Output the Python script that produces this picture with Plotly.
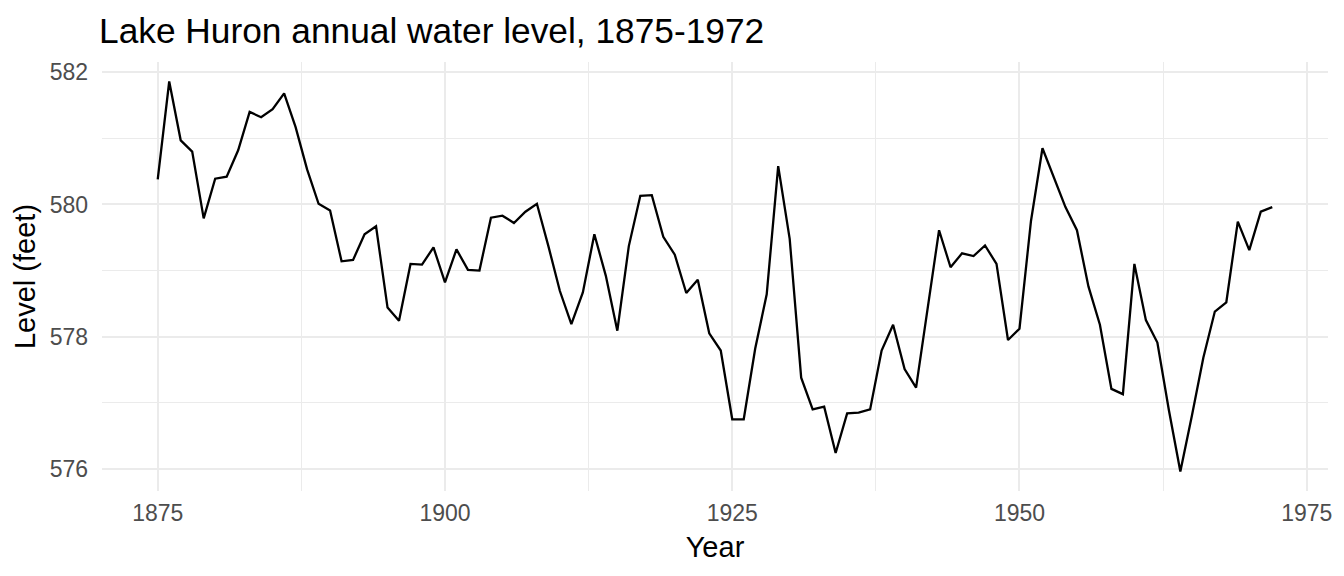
import plotly.graph_objects as go

years = list(range(1875, 1973))
level = [580.38, 581.86, 580.97, 580.80, 579.79, 580.39, 580.42, 580.82, 581.40, 581.32,
         581.44, 581.68, 581.17, 580.53, 580.01, 579.91, 579.14, 579.16, 579.55, 579.67,
         578.44, 578.24, 579.10, 579.09, 579.35, 578.82, 579.32, 579.01, 579.00, 579.80,
         579.83, 579.72, 579.89, 580.01, 579.37, 578.69, 578.19, 578.67, 579.55, 578.92,
         578.09, 579.37, 580.13, 580.14, 579.51, 579.24, 578.66, 578.86, 578.05, 577.79,
         576.75, 576.75, 577.82, 578.64, 580.58, 579.48, 577.38, 576.90, 576.94, 576.24,
         576.84, 576.85, 576.90, 577.79, 578.18, 577.51, 577.23, 578.42, 579.61, 579.05,
         579.26, 579.22, 579.38, 579.10, 577.95, 578.12, 579.75, 580.85, 580.41, 579.96,
         579.61, 578.76, 578.18, 577.21, 577.13, 579.10, 578.25, 577.91, 576.89, 575.96,
         576.80, 577.68, 578.38, 578.52, 579.74, 579.31, 579.89, 579.96]

x_ticks = [1875, 1900, 1925, 1950, 1975]
y_ticks = [576, 578, 580, 582]

font_family = "Liberation Sans, Arial, sans-serif"
grid = "#EBEBEB"

fig = go.Figure()
fig.add_trace(go.Scatter(x=years, y=level, mode="lines",
                         line=dict(color="black", width=2.3), showlegend=False,
                         hoverinfo="x+y"))

# page body has an 8px margin, so the figure is sized to fill the rest of the window
W, H = 1336, 568
fig.update_layout(
    width=W, height=H,
    paper_bgcolor="white", plot_bgcolor="white",
    margin=dict(l=93.5, r=15.5, t=54, b=84.5, autoexpand=False),
    font=dict(family=font_family, color="black"),
    title=dict(text="Lake Huron annual water level, 1875-1972",
               font=dict(size=35.3, color="black", family=font_family),
               xref="container", yref="container",
               x=91/W, xanchor="left",
               y=1 - 23/H, yanchor="middle"),
    xaxis=dict(
        range=[1870.15, 1976.85], tickmode="array", tickvals=x_ticks,
        ticktext=[str(v) for v in x_ticks],
        showgrid=True, gridcolor=grid, gridwidth=2.1,
        zeroline=False, showline=False, ticks="",
        tickfont=dict(size=23, color="#4D4D4D"),
        ticklabelstandoff=6,
        minor=dict(tickmode="array", tickvals=[1887.5, 1912.5, 1937.5, 1962.5],
                   showgrid=True, gridcolor=grid, gridwidth=1.1),
        title=dict(text="Year", font=dict(size=29, color="black"), standoff=11),
        automargin=False,
    ),
    yaxis=dict(
        range=[575.665, 582.155], tickmode="array", tickvals=y_ticks,
        ticktext=[str(v) for v in y_ticks],
        showgrid=True, gridcolor=grid, gridwidth=2.1,
        zeroline=False, showline=False, ticks="",
        tickfont=dict(size=23, color="#4D4D4D"),
        ticklabelstandoff=13,
        minor=dict(tickmode="array", tickvals=[577, 579, 581],
                   showgrid=True, gridcolor=grid, gridwidth=1.1),
        title=dict(text="Level (feet)", font=dict(size=29, color="black"), standoff=5),
        automargin=False,
    ),
)

fig.write_html("out.html")
